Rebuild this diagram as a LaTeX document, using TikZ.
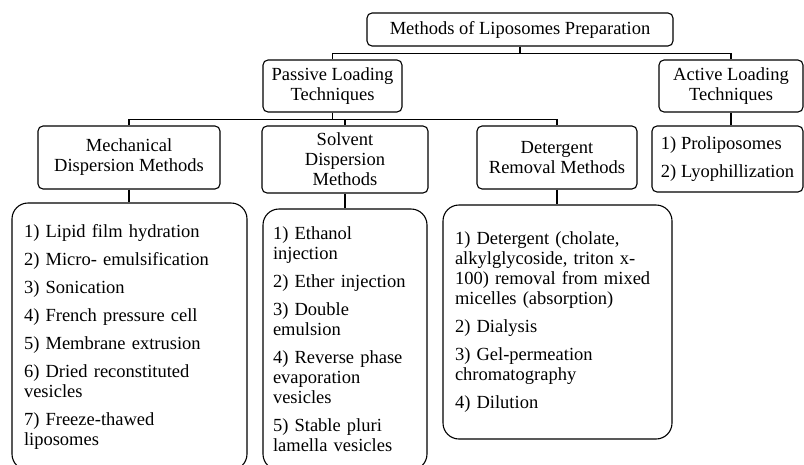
\documentclass[tikz,border=0pt]{standalone}
\usepackage{fontspec}
\setmainfont{Liberation Serif}
\usetikzlibrary{positioning}

\begin{document}
\begin{tikzpicture}[x=1pt,y=-1pt,
  headbox/.style={draw, line width=1.1pt, rounded corners=5pt, align=center, inner sep=2pt,
    font=\fontsize{18.5}{20}\selectfont},
  listbox/.style={draw, line width=1.1pt, rounded corners=16pt, align=left, inner ysep=2pt,
    font=\fontsize{18.5}{20}\selectfont},
  link/.style={line width=1.1pt}]
\useasboundingbox (0,0) rectangle (804,464);

\node[headbox, minimum width=306pt, minimum height=33pt] (methods) at (520,29.5) {Methods of Liposomes Preparation};
\node[headbox, minimum width=139pt, minimum height=52pt] (passive) at (332.5,86) {Passive Loading\\Techniques};
\node[headbox, minimum width=144pt, minimum height=52pt] (active) at (731,86) {Active Loading\\Techniques};

\node[headbox, minimum width=182pt, minimum height=63pt] (mech) at (129,157.5) {Mechanical\\Dispersion Methods};
\node[headbox, minimum width=166pt, minimum height=67pt] (solv) at (345,159.5) {Solvent\\Dispersion\\Methods};
\node[headbox, minimum width=160pt, minimum height=63pt] (deter) at (557,157.5) {Detergent\\Removal Methods};
\node[listbox, rounded corners=5pt, inner xsep=8pt, minimum width=151pt, minimum height=66pt] (activelist) at (727.5,159)
  {1) Proliposomes\\[8pt]2) Lyophillization};

% method lists
\node[listbox, inner xsep=12pt, text width=211pt, minimum height=267pt] (mechlist) at (129.5,336.5)
  {1) Lipid film hydration\\[8pt]
   2) Micro- emulsification\\[8pt]
   3) Sonication\\[8pt]
   4) French pressure cell\\[8pt]
   5) Membrane extrusion\\[8pt]
   6) Dried reconstituted\\vesicles\\[8pt]
   7) Freeze-thawed\\liposomes};
\node[listbox, inner xsep=10pt, text width=144pt, minimum height=261pt] (solvlist) at (345,339.5)
  {1) Ethanol\\injection\\[8pt]
   2) Ether injection\\[8pt]
   3) Double\\emulsion\\[8pt]
   4) Reverse phase\\evaporation\\vesicles\\[8pt]
   5) Stable pluri\\lamella vesicles};
\node[listbox, inner xsep=12pt, text width=205pt, minimum height=234pt] (deterlist) at (557.5,322)
  {1) Detergent (cholate,\\alkylglycoside, triton x-\\100) removal from mixed\\micelles (absorption)\\[8pt]
   2) Dialysis\\[8pt]
   3) Gel-permeation\\chromatography\\[8pt]
   4) Dilution};

\draw[link] (methods.south) -- ++(0,7) -| (passive.north);
\draw[link] (methods.south) -- ++(0,7) -| (active.north);
\draw[link] (passive.south) -- ++(0,7) -| (mech.north);
\draw[link] (passive.south) -- ++(0,7) -| (solv.north);
\draw[link] (passive.south) -- ++(0,7) -| (deter.north);
\draw[link] (active.south) -- (active.south |- activelist.north);
\draw[link] (mech.south) -- (mech.south |- mechlist.north);
\draw[link] (solv.south) -- (solv.south |- solvlist.north);
\draw[link] (deter.south) -- (deter.south |- deterlist.north);
\end{tikzpicture}
\end{document}
